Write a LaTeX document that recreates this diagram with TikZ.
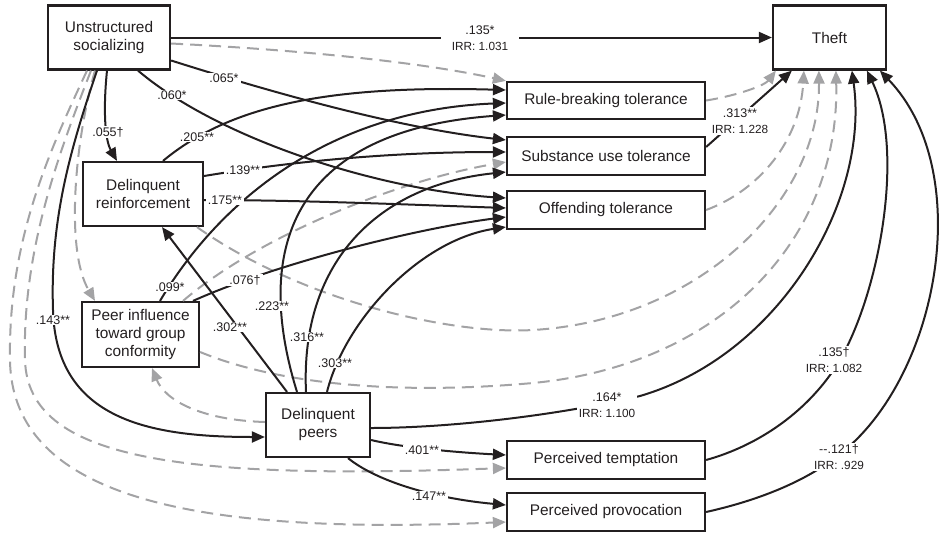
\documentclass[tikz,border=0pt]{standalone}
\usepackage{fontspec}
\setmainfont{Liberation Sans}
\usetikzlibrary{arrows.meta}
\definecolor{ink}{RGB}{35,31,32}
\definecolor{dashgrey}{RGB}{163,163,165}
\newcommand\irrsize{\fontsize{11.8}{14}\selectfont}

\begin{document}
\begin{tikzpicture}[x=1pt,y=-1pt,
  varbox/.style={draw=ink, line width=2.2pt, inner sep=0pt, align=center,
    text=ink, font=\fontsize{15.4}{18}\selectfont},
  effect/.style={draw=ink, line width=2pt,
    -{Triangle[length=13pt,width=11pt]}},
  indirect/.style={draw=dashgrey, line width=2pt, dash pattern=on 12pt off 7pt,
    -{Triangle[length=13pt,width=11pt]}},
  coef/.style={fill=white, inner xsep=2pt, inner ysep=1pt, align=center,
    text=ink, font=\fontsize{12.5}{16.5}\selectfont}]

\useasboundingbox (0,0) rectangle (950,533);

% variables
\node[varbox, minimum width=122pt, minimum height=64pt] (us) at (109,37.5) {Unstructured\\socializing};
\node[varbox, minimum width=113pt, minimum height=64pt] (theft) at (829.5,37.5) {Theft};
\node[varbox, minimum width=198pt, minimum height=37pt] (rb) at (606,100.5) {Rule-breaking tolerance};
\node[varbox, minimum width=198pt, minimum height=38pt] (su) at (606,156) {Substance use tolerance};
\node[varbox, minimum width=198pt, minimum height=38pt] (ot) at (606,210) {Offending tolerance};
\node[varbox, minimum width=120pt, minimum height=64pt] (dr) at (143,194) {Delinquent\\reinforcement};
\node[varbox, minimum width=117pt, minimum height=65pt] (pi) at (140.5,334.5) {Peer influence\\toward group\\conformity};
\node[varbox, minimum width=104pt, minimum height=64pt] (dp) at (318,425) {Delinquent\\peers};
\node[varbox, minimum width=198pt, minimum height=38pt] (pt) at (606,460) {Perceived temptation};
\node[varbox, minimum width=198pt, minimum height=38pt] (pp) at (606,512) {Perceived provocation};

% non-significant paths (grey, dashed)
\draw[indirect] ([yshift=-6pt]us.east) .. controls (300,50) and (420,62) .. (rb.north west);
\draw[indirect] ([xshift=-14pt]us.south) .. controls (75,140) and (65,250) .. ([xshift=-45.5pt]pi.north);
\draw[indirect] ([xshift=-18pt]us.south) .. controls (60,150) and (22,250) .. (25,360)
  .. controls (28,460) and (180,480) .. ([yshift=-8pt]pt.west);
\draw[indirect] ([xshift=-22pt]us.south) .. controls (50,150) and (8,240) .. (10,360)
  .. controls (12,500) and (200,535) .. ([yshift=-10pt]pp.west);
\draw[indirect] ([xshift=42.5pt]pi.north) .. controls (260,235) and (400,180) .. ([yshift=-6pt]su.west);
\draw[indirect] ([yshift=3pt]dp.west) .. controls (200,420) and (165,400) .. ([xshift=11.5pt]pi.south);
\draw[indirect] ([xshift=54pt]dr.south) .. controls (300,300) and (450,335) .. (533,330)
  .. controls (700,320) and (820,200) .. ([xshift=47pt]theft.south west);
\draw[indirect] ([yshift=-17.5pt]pi.east) .. controls (280,385) and (400,395) .. (533,383)
  .. controls (720,365) and (840,240) .. ([xshift=64pt]theft.south west);
\draw[indirect] (rb.east) .. controls (740,95) and (765,85) .. ([xshift=4pt]theft.south west);
\draw[indirect] (ot.east) .. controls (760,190) and (800,140) .. ([xshift=32pt]theft.south west);

% significant paths (black)
\draw[effect] (us.east) -- (theft.west);
\draw[effect] ([yshift=-23pt]us.east) .. controls (280,95) and (400,128) .. ([yshift=16pt]su.west);
\draw[effect] ([xshift=29pt]us.south) .. controls (220,140) and (380,190) .. ([yshift=12pt]ot.west);
\draw[effect] ([xshift=-2pt]us.south) .. controls (103,110) and (105,140) .. ([xshift=-26pt]dr.north);
\draw[effect] ([xshift=-12pt]us.south) .. controls (70,150) and (50,220) .. (53,310)
  .. controls (56,420) and (150,437) .. ([yshift=-12pt]dp.west);

\draw[effect] ([xshift=20pt]dr.north) .. controls (230,105) and (330,85) .. ([yshift=10.5pt]rb.west);
\draw[effect] ([yshift=18pt]dr.east) .. controls (300,160) and (400,152) .. ([yshift=4pt]su.west);
\draw[effect] ([yshift=-6pt]dr.east) .. controls (300,200) and (420,205) .. ([yshift=2pt]ot.west);

\draw[effect] ([xshift=19.5pt]pi.north) .. controls (220,200) and (330,110) .. ([yshift=-2.5pt]rb.west);
\draw[effect] ([xshift=52.5pt]pi.north) .. controls (280,262) and (420,228) .. ([yshift=-7pt]ot.west);

\draw[effect] ([xshift=-31pt]dp.north) -- ([xshift=19pt]dr.south);
\draw[effect] ([xshift=-21pt]dp.north) .. controls (250,240) and (300,130) .. ([yshift=-14.5pt]rb.west);
\draw[effect] ([xshift=-12pt]dp.north) .. controls (300,260) and (380,185) .. ([yshift=-16pt]su.west);
\draw[effect] ([xshift=9pt]dp.north) .. controls (345,320) and (420,240) .. ([yshift=-17pt]ot.west);
\draw[effect] ([yshift=-15pt]dp.east) .. controls (400,447) and (450,452) .. ([yshift=5pt]pt.west);
\draw[effect] ([xshift=30pt]dp.south) .. controls (375,480) and (430,498) .. ([yshift=7pt]pp.west);
\draw[effect] ([yshift=-3pt]dp.east) .. controls (450,428) and (560,415) .. (640,396)
  .. controls (780,355) and (870,200) .. ([xshift=80pt]theft.south west);

\draw[effect] ([yshift=9pt]su.east) -- ([xshift=20pt]theft.south west);
\draw[effect] (pt.east) .. controls (760,445) and (810,410) .. (840,360)
  .. controls (880,290) and (905,150) .. ([xshift=95pt]theft.south west);
\draw[effect] (pp.east) .. controls (760,500) and (810,480) .. (845,450)
  .. controls (940,370) and (975,170) .. ([xshift=108pt]theft.south west);

% coefficients
\node[coef, inner xsep=11pt] (k1) at (480,38) {.135*\\{\irrsize IRR: 1.031}};
\node[coef] (k2) at (224,78) {.065*};
\node[coef] (k3) at (172,95) {.060*};
\node[coef] (k4) at (108,132) {.055†};
\node[coef] (k5) at (197,137) {.205**};
\node[coef] (k6) at (243,170) {.139**};
\node[coef] (k7) at (225,200) {.175**};
\node[coef] (k8) at (170,287) {.099*};
\node[coef] (k9) at (245,280) {.076†};
\node[coef] (k10) at (53,320) {.143**};
\node[coef] (k11) at (230,327) {.302**};
\node[coef] (k12) at (272,306) {.223**};
\node[coef] (k13) at (307,337) {.316**};
\node[coef] (k14) at (335,363) {.303**};
\node[coef] (k15) at (607,405) {.164*\\{\irrsize IRR: 1.100}};
\node[coef] (k16) at (834,360) {.135†\\{\irrsize IRR: 1.082}};
\node[coef] (k17) at (839,457) {-{}-.121†\\{\irrsize IRR: .929}};
\node[coef] (k18) at (740,121) {.313**\\{\irrsize IRR: 1.228}};
\node[coef] (k19) at (422,450) {.401**};
\node[coef] (k20) at (429,496) {.147**};
\end{tikzpicture}
\end{document}
